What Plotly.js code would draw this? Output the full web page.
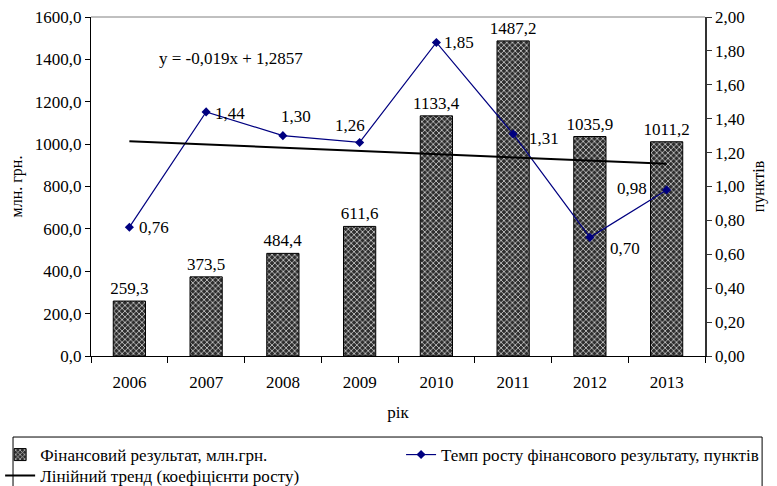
<!DOCTYPE html>
<html>
<head>
<meta charset="utf-8">
<script src="https://cdn.plot.ly/plotly-3.0.1.min.js"></script>
<style>html,body{margin:0;padding:0;background:#fff;}#chart{width:777px;height:486px;}</style>
</head>
<body>
<div id="chart"></div>
<script>
// ---- data ----
const years = ['2006', '2007', '2008', '2009', '2010', '2011', '2012', '2013'];
const finResult = [259.3, 373.5, 484.4, 611.6, 1133.4, 1487.2, 1035.9, 1011.2];
const growthRate = [0.76, 1.44, 1.30, 1.26, 1.85, 1.31, 0.70, 0.98];
const trendYears = ['2006', '2013'];
const trendValues = [1.267, 1.134];
const seriesNames = ['Фінансовий результат, млн.грн.', 'Темп росту фінансового результату, пунктів', 'Лінійний тренд (коефіцієнти росту)'];
const equationText = 'y = -0,019x + 1,2857';

// label offsets (style only, in pixels: [dx, dy-down])
const labelOffsets = [[25, 0], [24, 2], [13, -19], [-10, -17], [23, 0], [31, 5], [35, 11], [-35, -1]];

const FONT = '"Liberation Serif", "Times New Roman", serif';

const fmt2 = v => v.toFixed(2).replace('.', ',');

const traces = [
  {
    type: 'bar', x: years, y: finResult, name: seriesNames[0],
    yaxis: 'y', width: 0.42,
    marker: {color: '#2e2e2e', line: {color: '#000', width: 1},
             pattern: {shape: 'x', bgcolor: '#2e2e2e', fgcolor: '#c0c0c0', size: 4, solidity: 0.4}},
    texttemplate: '%{y:.1f}', textposition: 'outside', cliponaxis: false, constraintext: 'none',
    textfont: {family: FONT, size: 17, color: '#000'},
    legend: 'legend', hoverinfo: 'none'
  },
  {
    type: 'scatter', mode: 'lines+markers', x: years, y: growthRate, name: seriesNames[1],
    yaxis: 'y2', line: {color: '#000080', width: 1.2},
    marker: {symbol: 'diamond', size: 7, color: '#000080'},
    cliponaxis: false,
    legend: 'legend2', hoverinfo: 'none'
  },
  {
    type: 'scatter', mode: 'lines', x: trendYears, y: trendValues, name: seriesNames[2],
    yaxis: 'y2', line: {color: '#000', width: 2},
    legend: 'legend3', hoverinfo: 'none'
  }
];

const annotations = [
  {text: equationText, xref: 'paper', yref: 'paper', x: 0.107, y: 0.879,
   xanchor: 'left', yanchor: 'middle', showarrow: false, font: {family: FONT, size: 17}}
];
years.forEach((yr, i) => {
  annotations.push({
    text: fmt2(growthRate[i]), x: i, y: growthRate[i], xref: 'x', yref: 'y2',
    xshift: labelOffsets[i][0], yshift: -labelOffsets[i][1],
    xanchor: 'center', yanchor: 'middle', showarrow: false,
    font: {family: FONT, size: 17, color: '#000'}
  });
});

const layout = {
  width: 777, height: 486,
  margin: {l: 91, r: 72, t: 17, b: 130, autoexpand: false},
  paper_bgcolor: '#fff', plot_bgcolor: '#fff',
  separators: ', ',
  font: {family: FONT, size: 17, color: '#000'},
  showlegend: true,
  xaxis: {
    type: 'category', categoryorder: 'array', categoryarray: years, range: [-0.5, 7.5],
    tickson: 'boundaries', ticks: 'outside', ticklen: 6, tickcolor: '#000',
    showline: true, linecolor: '#000', linewidth: 1, showgrid: false, zeroline: false,
    tickfont: {family: FONT, size: 17}, ticklabelstandoff: 11, tickangle: 0,
    title: {text: 'рік', font: {family: FONT, size: 17}, standoff: 14}
  },
  yaxis: {
    range: [0, 1600], dtick: 200, tickformat: '.1f', ticks: 'outside', ticklen: 5, tickcolor: '#000',
    showline: true, linecolor: '#000', linewidth: 1, showgrid: false, zeroline: false,
    tickfont: {family: FONT, size: 17},
    title: {text: 'млн. грн.', font: {family: FONT, size: 16}, standoff: 8}
  },
  yaxis2: {
    overlaying: 'y', side: 'right', range: [0, 2], dtick: 0.2, tickformat: '.2f',
    ticks: 'outside', ticklen: 5, tickcolor: '#333',
    showline: true, linecolor: '#333', linewidth: 1.5, showgrid: false, zeroline: false,
    tickfont: {family: FONT, size: 17},
    title: {text: 'пунктів', font: {family: FONT, size: 16}, standoff: 9}
  },
  legend: {orientation: 'h', x: -0.148, xanchor: 'left', y: -0.239, yanchor: 'top',
           font: {family: FONT, size: 17}, bgcolor: 'rgba(0,0,0,0)'},
  legend2: {orientation: 'h', x: 0.505, xanchor: 'left', y: -0.239, yanchor: 'top',
           font: {family: FONT, size: 17}, bgcolor: 'rgba(0,0,0,0)'},
  legend3: {orientation: 'h', x: -0.148, xanchor: 'left', y: -0.301, yanchor: 'top',
           font: {family: FONT, size: 17}, bgcolor: 'rgba(0,0,0,0)'},
  shapes: [
    {type: 'line', xref: 'paper', yref: 'paper', x0: 0, x1: 1, y0: 1, y1: 1,
     line: {color: '#808080', width: 1}},
    {type: 'rect', xref: 'paper', yref: 'paper', x0: -0.127, x1: 1.093, y0: -0.239, y1: -0.45,
     line: {color: '#000', width: 1}, fillcolor: 'rgba(0,0,0,0)'}
  ],
  annotations: annotations
};

Plotly.newPlot('chart', traces, layout, {staticPlot: true, displayModeBar: false});
</script>
</body>
</html>
